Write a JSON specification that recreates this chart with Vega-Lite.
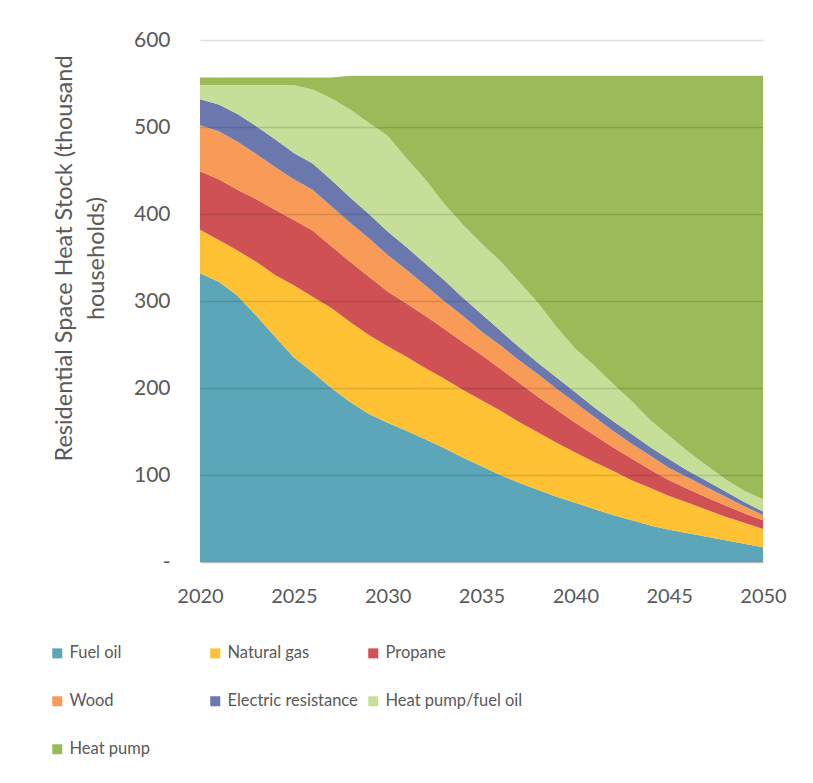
{
  "$schema": "https://vega.github.io/schema/vega-lite/v6.json",
  "width": 563,
  "height": 522,
  "autosize": {"type": "none"},
  "padding": {"left": 200, "top": 40, "right": 50, "bottom": 221},
  "background": "white",
  "data": {
    "values": [
      {"year": 2020, "Fuel oil": 332, "Natural gas": 50, "Propane": 67, "Wood": 53, "Electric resistance": 30, "Heat pump/fuel oil": 16, "Heat pump": 9},
      {"year": 2021, "Fuel oil": 322, "Natural gas": 48, "Propane": 70, "Wood": 55, "Electric resistance": 31, "Heat pump/fuel oil": 22, "Heat pump": 9},
      {"year": 2022, "Fuel oil": 306, "Natural gas": 52, "Propane": 70, "Wood": 55, "Electric resistance": 32, "Heat pump/fuel oil": 33, "Heat pump": 9},
      {"year": 2023, "Fuel oil": 283, "Natural gas": 62, "Propane": 72, "Wood": 52, "Electric resistance": 32, "Heat pump/fuel oil": 47, "Heat pump": 9},
      {"year": 2024, "Fuel oil": 259, "Natural gas": 71, "Propane": 75, "Wood": 49, "Electric resistance": 32, "Heat pump/fuel oil": 62, "Heat pump": 9},
      {"year": 2025, "Fuel oil": 235, "Natural gas": 83, "Propane": 75, "Wood": 47, "Electric resistance": 30, "Heat pump/fuel oil": 78, "Heat pump": 9},
      {"year": 2026, "Fuel oil": 218, "Natural gas": 87, "Propane": 76, "Wood": 47, "Electric resistance": 30, "Heat pump/fuel oil": 85, "Heat pump": 14},
      {"year": 2027, "Fuel oil": 200, "Natural gas": 92, "Propane": 71, "Wood": 46, "Electric resistance": 30, "Heat pump/fuel oil": 94, "Heat pump": 24},
      {"year": 2028, "Fuel oil": 184, "Natural gas": 92, "Propane": 69, "Wood": 45, "Electric resistance": 29, "Heat pump/fuel oil": 101, "Heat pump": 39},
      {"year": 2029, "Fuel oil": 170, "Natural gas": 91, "Propane": 67, "Wood": 44, "Electric resistance": 28, "Heat pump/fuel oil": 105, "Heat pump": 54},
      {"year": 2030, "Fuel oil": 160, "Natural gas": 88, "Propane": 63, "Wood": 42, "Electric resistance": 27, "Heat pump/fuel oil": 110, "Heat pump": 69},
      {"year": 2031, "Fuel oil": 151, "Natural gas": 85, "Propane": 61, "Wood": 39, "Electric resistance": 26, "Heat pump/fuel oil": 102, "Heat pump": 95},
      {"year": 2032, "Fuel oil": 141, "Natural gas": 82, "Propane": 60, "Wood": 35, "Electric resistance": 25, "Heat pump/fuel oil": 97, "Heat pump": 119},
      {"year": 2033, "Fuel oil": 131, "Natural gas": 80, "Propane": 57, "Wood": 32, "Electric resistance": 24, "Heat pump/fuel oil": 88, "Heat pump": 147},
      {"year": 2034, "Fuel oil": 120, "Natural gas": 78, "Propane": 55, "Wood": 30, "Electric resistance": 21, "Heat pump/fuel oil": 84, "Heat pump": 171},
      {"year": 2035, "Fuel oil": 110, "Natural gas": 76, "Propane": 52, "Wood": 27, "Electric resistance": 20, "Heat pump/fuel oil": 81, "Heat pump": 193},
      {"year": 2036, "Fuel oil": 100, "Natural gas": 74, "Propane": 48, "Wood": 27, "Electric resistance": 17, "Heat pump/fuel oil": 80, "Heat pump": 213},
      {"year": 2037, "Fuel oil": 91, "Natural gas": 70, "Propane": 45, "Wood": 26, "Electric resistance": 15, "Heat pump/fuel oil": 75, "Heat pump": 237},
      {"year": 2038, "Fuel oil": 83, "Natural gas": 66, "Propane": 41, "Wood": 26, "Electric resistance": 13, "Heat pump/fuel oil": 69, "Heat pump": 261},
      {"year": 2039, "Fuel oil": 75, "Natural gas": 62, "Propane": 38, "Wood": 24, "Electric resistance": 13, "Heat pump/fuel oil": 58, "Heat pump": 289},
      {"year": 2040, "Fuel oil": 68, "Natural gas": 58, "Propane": 34, "Wood": 23, "Electric resistance": 12, "Heat pump/fuel oil": 50, "Heat pump": 314},
      {"year": 2041, "Fuel oil": 61, "Natural gas": 54, "Propane": 31, "Wood": 21, "Electric resistance": 11, "Heat pump/fuel oil": 48, "Heat pump": 333},
      {"year": 2042, "Fuel oil": 54, "Natural gas": 51, "Propane": 27, "Wood": 19, "Electric resistance": 11, "Heat pump/fuel oil": 43, "Heat pump": 354},
      {"year": 2043, "Fuel oil": 48, "Natural gas": 46, "Propane": 25, "Wood": 17, "Electric resistance": 11, "Heat pump/fuel oil": 38, "Heat pump": 374},
      {"year": 2044, "Fuel oil": 42, "Natural gas": 43, "Propane": 21, "Wood": 16, "Electric resistance": 10, "Heat pump/fuel oil": 31, "Heat pump": 396},
      {"year": 2045, "Fuel oil": 37, "Natural gas": 39, "Propane": 18, "Wood": 14, "Electric resistance": 10, "Heat pump/fuel oil": 27, "Heat pump": 414},
      {"year": 2046, "Fuel oil": 33, "Natural gas": 35, "Propane": 16, "Wood": 13, "Electric resistance": 8, "Heat pump/fuel oil": 22, "Heat pump": 432},
      {"year": 2047, "Fuel oil": 29, "Natural gas": 31, "Propane": 14, "Wood": 12, "Electric resistance": 7, "Heat pump/fuel oil": 18, "Heat pump": 448},
      {"year": 2048, "Fuel oil": 25, "Natural gas": 27, "Propane": 13, "Wood": 10, "Electric resistance": 6, "Heat pump/fuel oil": 14, "Heat pump": 464},
      {"year": 2049, "Fuel oil": 21, "Natural gas": 24, "Propane": 11, "Wood": 8, "Electric resistance": 5, "Heat pump/fuel oil": 13, "Heat pump": 477},
      {"year": 2050, "Fuel oil": 17, "Natural gas": 21, "Propane": 10, "Wood": 6, "Electric resistance": 4, "Heat pump/fuel oil": 14, "Heat pump": 487}
    ]
  },
  "transform": [
    {"fold": ["Fuel oil", "Natural gas", "Propane", "Wood", "Electric resistance", "Heat pump/fuel oil", "Heat pump"], "as": ["system", "stock"]},
    {"calculate": "indexof(['Fuel oil','Natural gas','Propane','Wood','Electric resistance','Heat pump/fuel oil','Heat pump'], datum.system)", "as": "layerOrder"}
  ],
  "mark": {"type": "area", "interpolate": "linear"},
  "encoding": {
    "x": {
      "field": "year",
      "type": "quantitative",
      "scale": {"domain": [2020, 2050], "nice": false, "zero": false},
      "axis": {
        "title": null,
        "values": [2020, 2025, 2030, 2035, 2040, 2045, 2050],
        "format": "d",
        "ticks": false,
        "grid": false,
        "domainColor": "#d9d9d9",
        "domainWidth": 1.5,
        "labelPadding": 24,
        "labelFontSize": 20,
        "labelFlush": false
      }
    },
    "y": {
      "field": "stock",
      "type": "quantitative",
      "stack": "zero",
      "scale": {"domain": [0, 600], "nice": false},
      "axis": {
        "title": ["Residential Space Heat Stock (thousand", "households)"],
        "titleX": -136,
        "titleY": 218,
        "titleAngle": -90,
        "titleAlign": "center",
        "titleBaseline": "middle",
        "titleFontSize": 23.5,
        "titleFontWeight": "normal",
        "titleLineHeight": 32,
        "values": [0, 100, 200, 300, 400, 500, 600],
        "labelExpr": "datum.value == 0 ? '-' : datum.label",
        "domain": false,
        "ticks": false,
        "grid": true,
        "gridColor": "#000000",
        "gridOpacity": 0.13,
        "gridWidth": 1.5,
        "labelPadding": 30,
        "labelFontSize": 21,
        "zindex": 1
      }
    },
    "color": {
      "field": "system",
      "type": "nominal",
      "scale": {
        "domain": ["Fuel oil", "Natural gas", "Propane", "Wood", "Electric resistance", "Heat pump/fuel oil", "Heat pump"],
        "range": ["#5BA6B8", "#FEC234", "#D05153", "#F79B56", "#6A78AE", "#C5DF98", "#9BBB59"]
      },
      "legend": {
        "title": null,
        "orient": "none",
        "legendX": -151,
        "legendY": 605,
        "columns": 3,
        "direction": "horizontal",
        "gridAlign": "all",
        "columnPadding": 0,
        "rowPadding": 31,
        "symbolType": "square",
        "symbolSize": 100,
        "symbolStrokeWidth": 0,
        "symbolOpacity": 1,
        "labelFontSize": 16.5,
        "labelOffset": 4,
        "labelLimit": 300
      }
    },
    "order": {"field": "layerOrder", "type": "quantitative", "sort": "ascending"}
  },
  "config": {
    "font": "Lato",
    "view": {"stroke": null},
    "axis": {"labelColor": "#595959", "titleColor": "#595959", "labelFont": "Lato", "titleFont": "Lato"},
    "legend": {"labelColor": "#595959", "labelFont": "Lato"}
  }
}
